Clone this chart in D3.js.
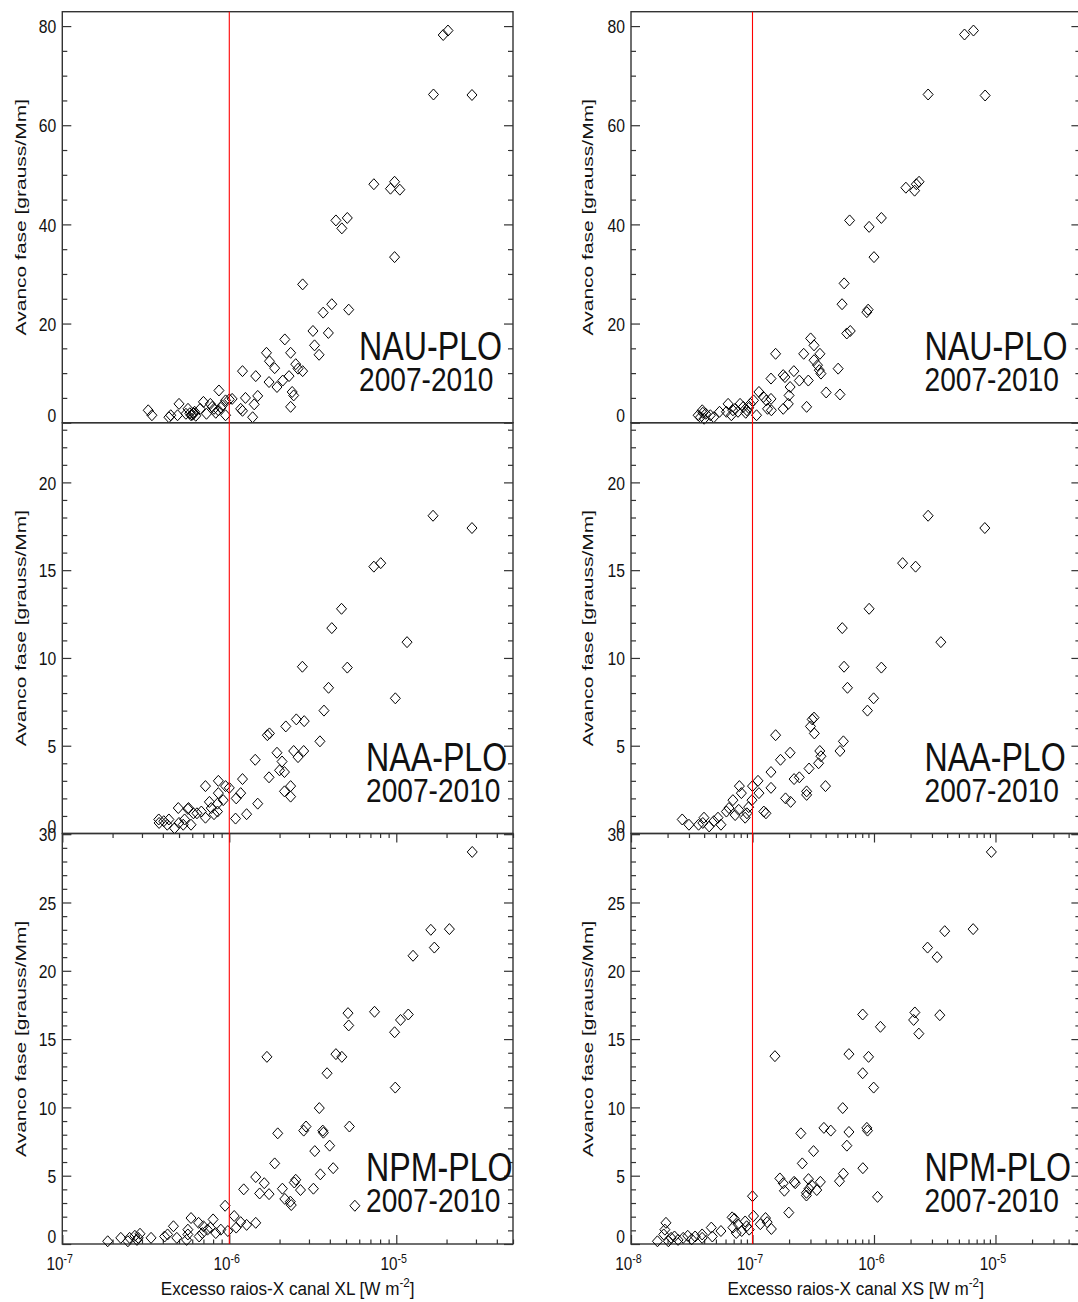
<!DOCTYPE html>
<html><head><meta charset="utf-8">
<script src="https://cdn.jsdelivr.net/npm/d3@7"></script>
<style>
body{margin:0;background:#fff}
svg{display:block}
text{font-family:"Liberation Sans",Arial,Helvetica,sans-serif;fill:#111}
</style>
</head><body>
<svg id="c" width="1078" height="1302"></svg>
<script>
// ---------------- DATA ----------------
const nauXL = [[2.04e-5,79.1],[1.91e-5,78.2],[1.67e-5,66.2],[2.84e-5,66.1],[7.34e-6,48.1],[9.23e-6,47.2],[9.77e-6,48.6],[1.05e-5,47.0],[9.77e-6,33.4],[4.35e-6,40.8],[4.72e-6,39.2],[5.09e-6,41.3],[5.19e-6,22.8],[4.11e-6,23.9],[3.65e-6,22.2],[2.75e-6,27.9],[3.17e-6,18.5],[3.92e-6,18.1],[3.24e-6,15.6],[3.45e-6,13.7],[2.15e-6,16.8],[2.33e-6,14.1],[2.50e-6,11.8],[2.75e-6,10.4],[1.67e-6,14.1],[1.74e-6,12.4],[1.87e-6,11.0],[1.73e-6,8.2],[1.93e-6,7.2],[2.09e-6,8.5],[2.28e-6,9.4],[2.38e-6,6.2],[2.43e-6,5.5],[2.33e-6,3.2],[2.58e-6,10.9],[1.20e-6,10.4],[1.44e-6,9.4],[1.48e-6,5.4],[1.25e-6,5.0],[1.41e-6,3.7],[1.38e-6,1.1],[1.17e-6,2.8],[1.20e-6,2.4],[1.04e-6,4.8],[1.0e-6,4.7],[9.5e-7,4.5],[8.67e-7,6.5],[9.1e-7,3.5],[8.6e-7,2.5],[9.5e-7,1.5],[7.7e-7,3.8],[8.1e-7,2.8],[7.3e-7,1.8],[7.0e-7,4.2],[6.7e-7,2.8],[6.1e-7,1.8],[6.2e-7,2.2],[5.9e-7,1.5],[5.66e-7,2.8],[5.5e-7,1.8],[5.0e-7,3.8],[4.9e-7,1.5],[4.46e-7,1.5],[4.35e-7,1.1],[3.44e-7,1.5],[3.27e-7,2.5],[6.0e-7,1.6],[6.1e-7,2.0],[5.8e-7,1.9],[6.3e-7,1.4],[8.3e-7,2.0],[8.9e-7,3.0],[7.9e-7,3.2]];
const nauXS = [[6.59e-6,79.1],[5.56e-6,78.3],[2.79e-6,66.2],[8.22e-6,66.0],[1.83e-6,47.4],[2.16e-6,46.8],[2.23e-6,48.1],[2.35e-6,48.6],[6.3e-7,40.8],[9.12e-7,39.5],[1.15e-6,41.3],[1.0e-6,33.4],[5.68e-7,28.1],[5.46e-7,23.9],[8.73e-7,22.3],[8.95e-7,22.8],[5.97e-7,18.0],[6.38e-7,18.5],[3.01e-7,17.0],[3.21e-7,15.6],[3.59e-7,13.9],[2.64e-7,13.9],[1.55e-7,13.9],[3.21e-7,12.6],[3.43e-7,11.6],[3.66e-7,9.9],[3.55e-7,10.6],[5.07e-7,10.9],[2.19e-7,10.4],[2.43e-7,8.5],[2.88e-7,8.5],[1.79e-7,9.6],[1.85e-7,9.2],[1.42e-7,8.9],[2.04e-7,7.2],[2.0e-7,5.5],[1.97e-7,3.8],[1.79e-7,2.8],[2.79e-7,3.2],[4.04e-7,6.1],[5.25e-7,5.7],[1.13e-7,6.2],[1.23e-7,5.2],[1.3e-7,4.5],[1.42e-7,4.8],[1.33e-7,2.8],[1.43e-7,2.5],[1.08e-7,1.5],[1.02e-7,4.5],[9.6e-8,3.8],[9.0e-8,2.5],[8.4e-8,3.2],[7.9e-8,3.8],[7.6e-8,2.2],[7.2e-8,2.8],[6.7e-8,1.5],[6.3e-8,3.8],[6.1e-8,2.2],[5.35e-8,2.2],[4.8e-8,1.1],[4.5e-8,1.5],[4.12e-8,1.8],[3.86e-8,2.5],[3.73e-8,1.1],[3.57e-8,1.5],[8.8e-8,2.0],[9.3e-8,3.0],[6.9e-8,2.5],[4.0e-8,0.8],[3.9e-8,2.0]];
const naaXL = [[1.66e-5,18.1],[2.84e-5,17.4],[7.34e-6,15.2],[8.07e-6,15.4],[1.16e-5,10.9],[9.87e-6,7.7],[4.70e-6,12.8],[4.11e-6,11.7],[5.09e-6,9.45],[2.74e-6,9.5],[3.93e-6,8.3],[3.69e-6,7.0],[3.49e-6,5.25],[2.52e-6,6.5],[2.81e-6,6.4],[2.18e-6,6.1],[1.69e-6,5.6],[1.74e-6,5.7],[2.43e-6,4.7],[2.58e-6,4.35],[2.79e-6,4.7],[1.93e-6,4.6],[2.07e-6,4.1],[2.0e-6,3.6],[2.14e-6,3.5],[1.73e-6,3.2],[2.33e-6,2.7],[2.14e-6,2.4],[2.33e-6,2.1],[1.43e-6,4.2],[1.48e-6,1.7],[1.27e-6,1.1],[1.09e-6,0.85],[1.2e-6,3.1],[1.17e-6,2.3],[1.1e-6,2.0],[1.0e-6,2.6],[9.5e-7,2.7],[9.2e-7,1.9],[8.6e-7,3.0],[8.6e-7,2.3],[8.5e-7,1.7],[8.5e-7,1.25],[8.1e-7,1.1],[7.6e-7,1.8],[7.8e-7,1.45],[7.2e-7,2.7],[7.2e-7,0.9],[6.8e-7,1.25],[6.4e-7,1.15],[6.1e-7,1.15],[5.7e-7,1.45],[5.9e-7,0.5],[5.4e-7,0.8],[5.3e-7,0.5],[5.65e-7,1.4],[4.95e-7,1.45],[5.0e-7,0.6],[4.7e-7,0.3],[4.35e-7,0.8],[4.25e-7,0.5],[4.05e-7,0.7],[3.8e-7,0.6],[3.78e-7,0.8]];
const naaXS = [[2.79e-6,18.1],[8.17e-6,17.4],[1.72e-6,15.4],[2.20e-6,15.2],[3.55e-6,10.9],[9.12e-7,12.8],[5.48e-7,11.7],[5.67e-7,9.5],[1.15e-6,9.45],[6.05e-7,8.3],[9.93e-7,7.7],[8.84e-7,7.0],[5.6e-7,5.25],[5.25e-7,4.7],[3.21e-7,6.6],[3.1e-7,6.5],[3.0e-7,6.1],[3.23e-7,5.7],[1.55e-7,5.6],[2.04e-7,4.6],[1.70e-7,4.2],[1.42e-7,3.5],[1.42e-7,2.6],[1.11e-7,3.0],[1.13e-7,2.3],[1.24e-7,1.25],[1.29e-7,1.15],[3.58e-7,4.7],[3.66e-7,4.4],[3.5e-7,4.0],[2.92e-7,3.7],[2.2e-7,3.1],[2.43e-7,3.2],[2.79e-7,2.4],[2.79e-7,2.2],[1.87e-7,2.0],[2.06e-7,1.8],[3.99e-7,2.7],[1.0e-7,2.7],[9.9e-8,1.9],[9.3e-8,1.5],[9.0e-8,1.15],[8.7e-8,0.9],[7.8e-8,2.7],[8.1e-8,2.3],[7.7e-8,1.35],[7.2e-8,1.05],[6.9e-8,1.9],[6.4e-8,1.45],[6.1e-8,1.25],[5.5e-8,0.5],[5.2e-8,0.9],[4.8e-8,0.7],[3.99e-8,0.9],[3.9e-8,0.6],[3.6e-8,0.5],[4.4e-8,0.4],[3.0e-8,0.5],[2.64e-8,0.8]];
const npmXL = [[2.85e-5,28.7],[1.61e-5,23.0],[2.08e-5,23.05],[1.69e-5,21.7],[1.26e-5,21.1],[7.41e-6,17.0],[1.18e-5,16.8],[1.06e-5,16.4],[9.77e-6,15.5],[9.86e-6,11.45],[5.14e-6,16.9],[5.19e-6,16.0],[4.35e-6,13.9],[4.72e-6,13.7],[3.85e-6,12.5],[3.46e-6,9.95],[3.63e-6,8.3],[3.66e-6,8.15],[3.99e-6,7.2],[5.24e-6,8.6],[3.25e-6,6.8],[4.19e-6,5.55],[3.51e-6,5.1],[3.19e-6,4.05],[5.65e-6,2.8],[2.79e-6,8.3],[2.88e-6,8.6],[1.95e-6,8.1],[1.68e-6,13.7],[1.87e-6,5.9],[1.44e-6,4.9],[1.62e-6,4.45],[1.52e-6,3.7],[1.73e-6,3.65],[2.08e-6,4.05],[2.15e-6,3.3],[2.32e-6,3.1],[2.35e-6,2.85],[2.45e-6,4.5],[2.5e-6,4.7],[2.67e-6,3.95],[1.22e-6,4.0],[1.44e-6,1.55],[1.27e-6,1.4],[1.17e-6,1.6],[1.1e-6,1.2],[1.07e-6,2.05],[9.44e-7,2.8],[9.8e-7,0.95],[8.9e-7,1.05],[8.3e-7,0.8],[8.0e-7,1.8],[7.7e-7,1.2],[7.4e-7,1.05],[7.0e-7,1.3],[6.9e-7,0.8],[6.55e-7,1.55],[6.6e-7,0.55],[5.9e-7,1.9],[5.65e-7,0.7],[5.55e-7,0.3],[5.65e-7,1.05],[4.63e-7,1.3],[4.85e-7,0.45],[4.27e-7,0.7],[4.1e-7,0.55],[3.4e-7,0.45],[2.92e-7,0.75],[2.85e-7,0.45],[2.8e-7,0.3],[2.72e-7,0.6],[2.53e-7,0.45],[2.47e-7,0.2],[2.24e-7,0.45],[1.87e-7,0.2]];
const npmXS = [[9.25e-6,28.7],[6.55e-6,23.05],[3.82e-6,22.9],[2.76e-6,21.7],[3.31e-6,21.0],[2.17e-6,16.95],[2.12e-6,16.4],[2.34e-6,15.4],[3.48e-6,16.75],[8.07e-7,16.8],[1.13e-6,15.9],[1.53e-7,13.75],[6.22e-7,13.9],[9.02e-7,13.7],[8.07e-7,12.5],[9.94e-7,11.45],[5.53e-7,9.95],[3.87e-7,8.5],[4.41e-7,8.3],[6.22e-7,8.2],[8.73e-7,8.5],[8.85e-7,8.3],[2.5e-7,8.1],[3.18e-7,6.8],[5.98e-7,7.2],[2.57e-7,5.9],[8.1e-7,5.55],[5.6e-7,5.15],[5.2e-7,4.6],[3.62e-7,4.55],[1.68e-7,4.8],[1.79e-7,4.45],[1.83e-7,3.9],[2.2e-7,4.55],[2.25e-7,4.45],[2.89e-7,4.75],[3.07e-7,4.3],[2.92e-7,4.05],[3.38e-7,3.95],[2.78e-7,3.75],[2.78e-7,3.55],[1.99e-7,2.3],[1.07e-6,3.45],[1.0e-7,3.5],[1.02e-7,2.05],[1.28e-7,1.9],[1.32e-7,1.6],[1.43e-7,1.1],[1.16e-7,1.45],[8.95e-8,1.3],[8.7e-8,1.65],[9.4e-8,1.05],[8.15e-8,0.95],[7.6e-8,1.45],[7.1e-8,1.85],[6.8e-8,1.95],[6.9e-8,1.2],[7.35e-8,0.8],[5.5e-8,0.95],[4.58e-8,1.2],[4.67e-8,0.55],[3.85e-8,0.45],[3.85e-8,0.7],[3.37e-8,0.55],[3.16e-8,0.35],[2.93e-8,0.6],[2.69e-8,0.45],[2.44e-8,0.3],[2.28e-8,0.55],[2.14e-8,0.45],[2.03e-8,0.2],[1.9e-8,1.05],[1.94e-8,1.55],[1.86e-8,0.7],[1.65e-8,0.2]];

const stationNames = ["NAU-PLO", "NAA-PLO", "NPM-PLO"];
const periodLabel = "2007-2010";
const yTicksNAU = [0, 20, 40, 60, 80];
const yTicksNAA = [0, 5, 10, 15, 20];
const yTicksNPM = [0, 5, 10, 15, 20, 25, 30];
const xTicksXL = [1e-7, 1e-6, 1e-5];
const xTicksXS = [1e-8, 1e-7, 1e-6, 1e-5];
const yTitle = "Avanco fase [grauss/Mm]";
const xTitles = ["Excesso raios-X canal XL [W m", "Excesso raios-X canal XS [W m"];
const thresholds = [1e-6, 1e-7];

// ---------------- LAYOUT ----------------
const svg = d3.select('#c');
const cols = [
  {x0: 62.3, x1: 513, dom: [1e-7, 5e-5], ytx: 20.7, labX: [359, 366, 366]},
  {x0: 631, x1: 1080.4, dom: [1e-8, 5e-5], ytx: 588, labX: [924.5, 924.5, 924.5]}
];
const rows = [
  {y0: 11.7, y1: 422.7, dom: [0, 82.9], ticks: yTicksNAU, minor: 5},
  {y0: 422.7, y1: 833.5, dom: [0, 23.4], ticks: yTicksNAA, minor: 1},
  {y0: 833.5, y1: 1244, dom: [0, 30.05], ticks: yTicksNPM, minor: 1}
];
const panelData = [[nauXL, nauXS], [naaXL, naaXS], [npmXL, npmXS]];
const xTickSets = [xTicksXL, xTicksXS];
const frameColor = '#333';

function condense(sel, sx) {
  sel.each(function() {
    const t = d3.select(this);
    const x = +t.attr('x') || 0;
    t.attr('transform', `translate(${x},0) scale(${sx},1)`).attr('x', 0);
  });
}
function styleAxis(g) {
  g.select('.domain').remove();
  g.selectAll('.tick line').attr('stroke', frameColor).attr('stroke-width', 1.2);
}

cols.forEach((c, ci) => {
  const x = d3.scaleLog().domain(c.dom).range([c.x0, c.x1]);
  rows.forEach((r, ri) => {
    const y = d3.scaleLinear().domain(r.dom).range([r.y1, r.y0]);
    const g = svg.append('g');
    const minorVals = d3.range(r.dom[0], r.dom[1] + 1e-9, r.minor).filter(v => !r.ticks.includes(v));

    // y axes (left, right) - minor and major ticks inward
    [[d3.axisLeft, c.x0], [d3.axisRight, c.x1]].forEach(([ax, px], side) => {
      const gm = g.append('g').attr('transform', `translate(${px},0)`)
        .call(ax(y).tickValues(minorVals).tickSize(-5).tickFormat(''));
      styleAxis(gm);
      const gM = g.append('g').attr('transform', `translate(${px},0)`)
        .call(ax(y).tickValues(r.ticks).tickSize(-9).tickPadding(side === 0 ? 6 : 0)
          .tickFormat(side === 0 ? d3.format('d') : ''));
      styleAxis(gM);
      if (side === 0) {
        gM.selectAll('text').attr('font-size', 18.5).attr('fill', '#111')
          .attr('font-family', '"Liberation Sans",Arial,sans-serif')
          .attr('dy', d => d === 0 ? '-0.08em' : '0.36em');
        condense(gM.selectAll('text'), 0.85);
      }
    });

    // x axes only on bottom row: top and bottom, ticks inward
    if (ri === rows.length - 1) {
      const allTicks = x.ticks();
      const majors = xTickSets[ci];
      const minors = allTicks.filter(v => !majors.some(m => Math.abs(m - v) / m < 1e-6));
      [[d3.axisBottom, r.y1], [d3.axisTop, r.y0]].forEach(([ax, py], side) => {
        const gm = g.append('g').attr('transform', `translate(0,${py})`)
          .call(ax(x).tickValues(minors).tickSize(-4.5).tickFormat(''));
        styleAxis(gm);
        const gM = g.append('g').attr('transform', `translate(0,${py})`)
          .call(ax(x).tickValues(majors).tickSize(-9).tickPadding(side === 0 ? 14 : 0).tickFormat(''));
        styleAxis(gM);
        if (side === 0) {
          gM.selectAll('.tick').append('text')
            .attr('font-size', 18).attr('fill', '#111').attr('text-anchor', 'middle')
            .attr('font-family', '"Liberation Sans",Arial,sans-serif')
            .attr('transform', 'translate(-3,26) scale(0.85,1)')
            .each(function(d) {
              const t = d3.select(this);
              const e = Math.round(Math.log10(d));
              t.append('tspan').text('10');
              t.append('tspan').attr('font-size', 12.5).attr('dy', -7).text(String(e));
            });
        }
      });
    }

    // frame
    g.append('rect').attr('x', c.x0).attr('y', r.y0)
      .attr('width', c.x1 - c.x0).attr('height', r.y1 - r.y0)
      .attr('fill', 'none').attr('stroke', frameColor).attr('stroke-width', 1.4);

    // diamonds
    g.append('g').selectAll('path').data(panelData[ri][ci]).join('path')
      .attr('d', 'M0,-5.5L5,0L0,5.5L-5,0Z')
      .attr('transform', d => `translate(${x(d[0])},${y(d[1])})`)
      .attr('fill', 'none').attr('stroke', '#000').attr('stroke-width', 1);

    // annotation
    g.append('text').attr('font-size', 40)
      .attr('transform', `translate(${c.labX[ri]},${r.y1 - 63}) scale(0.805,1)`)
      .text(stationNames[ri]);
    g.append('text').attr('font-size', 33.5)
      .attr('transform', `translate(${c.labX[ri]},${r.y1 - 32}) scale(0.84,1)`)
      .text(periodLabel);

    // y title
    g.append('text').attr('font-size', 21).attr('text-anchor', 'middle').attr('dy', '0.35em')
      .attr('transform', `translate(${c.ytx},${(r.y0 + r.y1) / 2}) scale(0.72,1) rotate(-90)`)
      .text(yTitle);
  });

  // threshold red line
  svg.append('line').attr('x1', x(thresholds[ci])).attr('x2', x(thresholds[ci]))
    .attr('y1', rows[0].y0).attr('y2', rows[rows.length - 1].y1)
    .attr('stroke', '#ff0000').attr('stroke-width', 1.1);

  // x title
  const xt = svg.append('text').attr('font-size', 19).attr('text-anchor', 'middle')
    .attr('transform', `translate(${(c.x0 + c.x1) / 2},1295) scale(0.9,1)`);
  xt.append('tspan').text(xTitles[ci]);
  xt.append('tspan').attr('font-size', 13).attr('dy', -8).text('-2');
  xt.append('tspan').attr('dy', 8).text(']');
});
</script>
</body></html>
